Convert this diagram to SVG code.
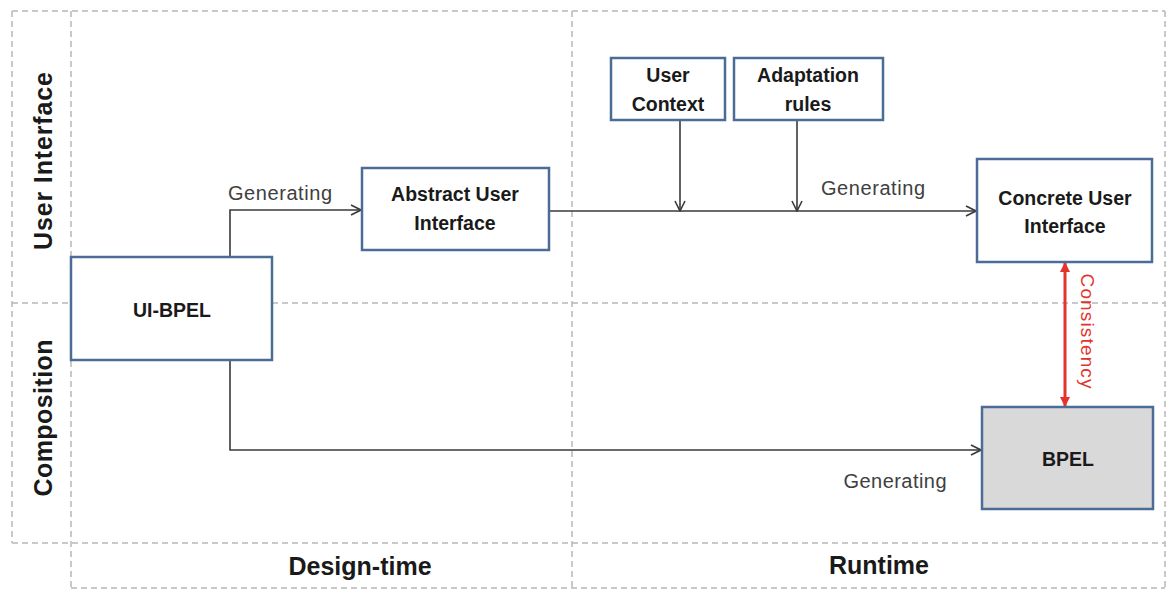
<svg xmlns="http://www.w3.org/2000/svg" width="1169" height="590" viewBox="0 0 1169 590">
<style>
.grid{stroke:#b8b8b8;stroke-width:1.5;stroke-dasharray:6 4;fill:none}
.box rect{fill:#fff;stroke:#4a6c96;stroke-width:2.5}
.box text{font-family:"Liberation Sans",Arial,sans-serif;font-weight:bold;font-size:19.5px;fill:#1a1a1a;text-anchor:middle}
.conn{stroke:#3a3a3a;stroke-width:1.6;fill:none}
.lbl{font-family:"Liberation Sans",Arial,sans-serif;font-size:20px;fill:#404040;text-anchor:middle}
.axis{font-family:"Liberation Sans",Arial,sans-serif;font-weight:bold;font-size:25px;fill:#1a1a1a;text-anchor:middle}
</style>
<defs>
<marker id="arr" viewBox="0 0 12 12" refX="11" refY="6" markerWidth="12" markerHeight="12" markerUnits="userSpaceOnUse" orient="auto">
<polyline points="1,1 11,6 1,11" fill="none" stroke="#3a3a3a" stroke-width="1.6"/>
</marker>
<marker id="red" viewBox="0 0 10 10" refX="9" refY="5" markerWidth="10" markerHeight="10" markerUnits="userSpaceOnUse" orient="auto-start-reverse">
<path d="M0,0 L10,5 L0,10 Z" fill="#e5322d"/>
</marker>
</defs>
<rect width="1169" height="590" fill="#fff"/>
<g id="grid">
<line class="grid" x1="12" y1="11" x2="1165" y2="11"/>
<line class="grid" x1="12" y1="11" x2="12" y2="543"/>
<line class="grid" x1="71" y1="11" x2="71" y2="590"/>
<line class="grid" x1="572" y1="11" x2="572" y2="590"/>
<line class="grid" x1="1165" y1="11" x2="1165" y2="590"/>
<line class="grid" x1="12" y1="303" x2="1165" y2="303"/>
<line class="grid" x1="12" y1="543" x2="1165" y2="543"/>
<line class="grid" x1="71" y1="588" x2="1165" y2="588"/>
</g>
<g id="axis-labels">
<text class="axis" transform="translate(52,161) rotate(-90)" textLength="178">User Interface</text>
<text class="axis" transform="translate(52,418) rotate(-90)" textLength="157">Composition</text>
<text class="axis" x="360" y="575">Design-time</text>
<text class="axis" x="879" y="574">Runtime</text>
</g>
<g id="connectors">
<polyline class="conn" points="230,257 230,210 361,210" marker-end="url(#arr)"/>
<line class="conn" x1="549" y1="211" x2="976" y2="211" marker-end="url(#arr)"/>
<line class="conn" x1="680" y1="120" x2="680" y2="211" marker-end="url(#arr)"/>
<line class="conn" x1="797" y1="120" x2="797" y2="211" marker-end="url(#arr)"/>
<polyline class="conn" points="230,360 230,450 981,450" marker-end="url(#arr)"/>
<line x1="1065" y1="263" x2="1065" y2="406" stroke="#e5322d" stroke-width="3" marker-start="url(#red)" marker-end="url(#red)"/>
<text class="lbl" x="280" y="200" textLength="104">Generating</text>
<text class="lbl" x="873" y="195" textLength="104">Generating</text>
<text class="lbl" x="895" y="488" textLength="103">Generating</text>
<text transform="translate(1081,331) rotate(90)" font-family="'Liberation Sans',Arial,sans-serif" font-size="19" fill="#e5322d" text-anchor="middle" textLength="115">Consistency</text>
</g>
<g id="ui-bpel" class="box">
<rect x="71" y="257" width="201" height="103"/>
<text x="172" y="317">UI-BPEL</text>
</g>
<g id="abstract-ui" class="box">
<rect x="362" y="168" width="187" height="82"/>
<text x="455" y="201">Abstract User</text>
<text x="455" y="230">Interface</text>
</g>
<g id="user-context" class="box">
<rect x="611" y="58" width="114" height="62"/>
<text x="668" y="82">User</text>
<text x="668" y="111">Context</text>
</g>
<g id="adaptation-rules" class="box">
<rect x="734" y="58" width="149" height="62"/>
<text x="808" y="82">Adaptation</text>
<text x="808" y="111">rules</text>
</g>
<g id="concrete-ui" class="box">
<rect x="977" y="159" width="175" height="103"/>
<text x="1065" y="205">Concrete User</text>
<text x="1065" y="233">Interface</text>
</g>
<g id="bpel" class="box">
<rect x="982" y="407" width="171" height="102" style="fill:#d9d9d9"/>
<text x="1068" y="466">BPEL</text>
</g>
</svg>
